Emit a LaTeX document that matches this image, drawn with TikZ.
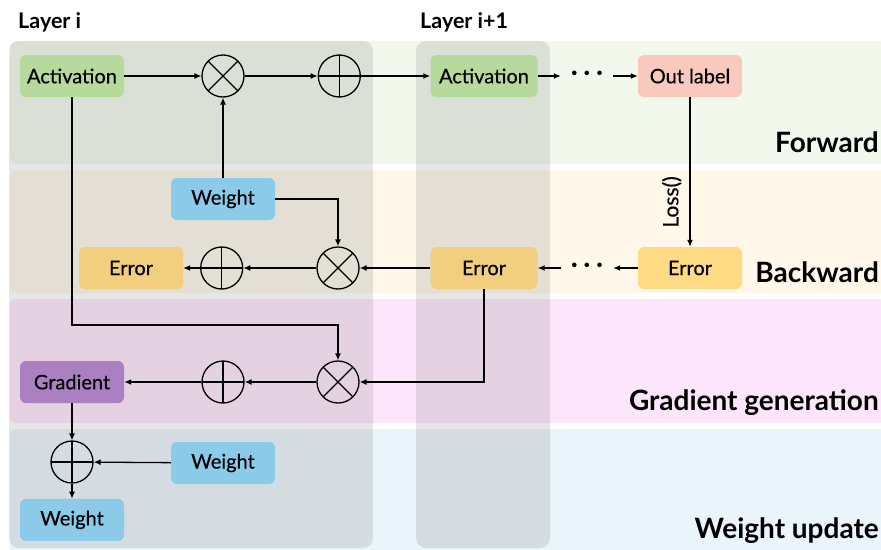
\documentclass[tikz,border=0pt]{standalone}
\usepackage{fontspec}
\setmainfont{Lato}
\usetikzlibrary{positioning, arrows.meta, calc}

\definecolor{fwdband}{HTML}{F2F8EC}
\definecolor{bwdband}{HTML}{FEF7EA}
\definecolor{gradband}{HTML}{FDE6FB}
\definecolor{updband}{HTML}{EAF4FB}
\definecolor{actgreen}{HTML}{B6D99C}
\definecolor{outred}{HTML}{F9C9BD}
\definecolor{wtblue}{HTML}{8BCAE8}
\definecolor{errcol}{HTML}{F2CF7E}
\definecolor{erryellow}{HTML}{FFDA85}
\definecolor{gradpurple}{HTML}{AB80C2}

\begin{document}
\begin{tikzpicture}
    [
        x=1pt, y=-1pt,
        box/.style={rounded corners=6, fill=#1, minimum width=104pt,
                    minimum height=42pt, inner sep=0pt,
                    font=\fontsize{20}{22}\selectfont\addfontfeature{FakeBold=0.4}},
        mul/.style={circle, draw, line width=1.3pt, minimum size=42pt, inner sep=0pt,
                    path picture={\draw [line width=1.3pt]
                        (path picture bounding box.north west) -- (path picture bounding box.south east)
                        (path picture bounding box.north east) -- (path picture bounding box.south west);}},
        add/.style={circle, draw, line width=1.3pt, minimum size=42pt, inner sep=0pt,
                    path picture={\draw [line width=1.3pt]
                        (path picture bounding box.north) -- (path picture bounding box.south)
                        (path picture bounding box.east) -- (path picture bounding box.west);}},
        dots/.style={minimum width=52pt, inner sep=0pt, font=\fontsize{24}{24}\selectfont\bfseries},
        band/.style={rounded corners=6, fill=#1},
        layer/.style={rounded corners=10, fill=black!50, opacity=0.2},
        stage/.style={anchor=base east, inner sep=0pt, font=\fontsize{28}{30}\selectfont\bfseries},
        title/.style={anchor=base west, inner sep=0pt, font=\fontsize{21.5}{24}\selectfont\bfseries},
        conn/.style={-{Latex[length=7pt,width=6pt]}, line width=1.3pt}
    ]
    \useasboundingbox (0,0) rectangle (881,549);
    % stages
    \fill [band=fwdband] (10,41) rectangle (885,164);
    \fill [band=bwdband] (10,170) rectangle (885,293);
    \fill [band=gradband] (10,299) rectangle (885,423);
    \fill [band=updband] (10,429) rectangle (885,560);
    % layers
    \fill [layer] (9,41) rectangle (373,548);
    \fill [layer] (416,41) rectangle (550,548);
    \node (li) [title] at (18,28) {Layer i};
    \node (lj) [title] at (420,28) {Layer i+1};
    \node (fwd) [stage] at (879,152) {Forward};
    \node (bwd) [stage] at (879,282) {Backward};
    \node (gen) [stage] at (879,410) {Gradient generation};
    \node (upd) [stage] at (879,538) {Weight update};

    % forward
    \node (act1) [box=actgreen] at (72,76) {Activation};
    \node (mul1) [mul] at (223,76) {};
    \node (add1) [add, right=73pt of mul1] {};
    \node (act2) [box=actgreen, minimum width=107pt] at (484,76) {Activation};
    \node (dotsf) [dots] at (587,76) {·\hspace{6pt}·\hspace{6pt}·};
    \node (out) [box=outred] at (690,76) {Out label};
    % backward
    \node (wt1) [box=wtblue] at (223,199) {Weight};
    \node (mul2) [mul] at (338,268) {};
    \node (add2) [add, left=73pt of mul2] {};
    \node (err1) [box=errcol] at (131,268) {Error};
    \node (err2) [box=errcol, minimum width=107pt] at (484,268) {Error};
    \node (dotsb) [dots] at (587,268) {·\hspace{6pt}·\hspace{6pt}·};
    \node (err3) [box=erryellow] at (690,268) {Error};
    % gradient
    \node (grad) [box=gradpurple] at (72,382) {Gradient};
    \node (add3) [add] at (223,382) {};
    \node (mul3) [mul] at (338,382) {};
    \coordinate (turn) at (338,325);
    % update
    \node (add4) [add] at (72,462) {};
    \node (wt2) [box=wtblue] at (223,463) {Weight};
    \node (wt3) [box=wtblue, below=15pt of add4] {Weight};

    \draw [conn] (act1) -- (mul1);
    \draw [conn] (mul1) -- (add1);
    \draw [conn] (add1) -- (act2);
    \draw [conn] (act2) -- (dotsf);
    \draw [conn] (dotsf) -- (out);
    \draw [conn] (out) -- node [pos=0.7, rotate=90, anchor=south, inner sep=8pt,
        font=\fontsize{21}{22}\selectfont\addfontfeature{FakeBold=0.4}] {Loss()} (err3);
    \draw [conn] (err3) -- (dotsb);
    \draw [conn] (dotsb) -- (err2);
    \draw [conn] (err2) -- (mul2);
    \draw [conn] (mul2) -- (add2);
    \draw [conn] (add2) -- (err1);
    \draw [conn] (wt1) -- (mul1);
    \draw [conn] (wt1) -| (mul2);
    \draw [conn] (act1) |- (turn) -- (mul3);
    \draw [conn] (err2) |- (mul3);
    \draw [conn] (mul3) -- (add3);
    \draw [conn] (add3) -- (grad);
    \draw [conn] (grad) -- (add4);
    \draw [conn] (wt2) -- (add4);
    \draw [conn] (add4) -- (wt3);
\end{tikzpicture}
\end{document}
